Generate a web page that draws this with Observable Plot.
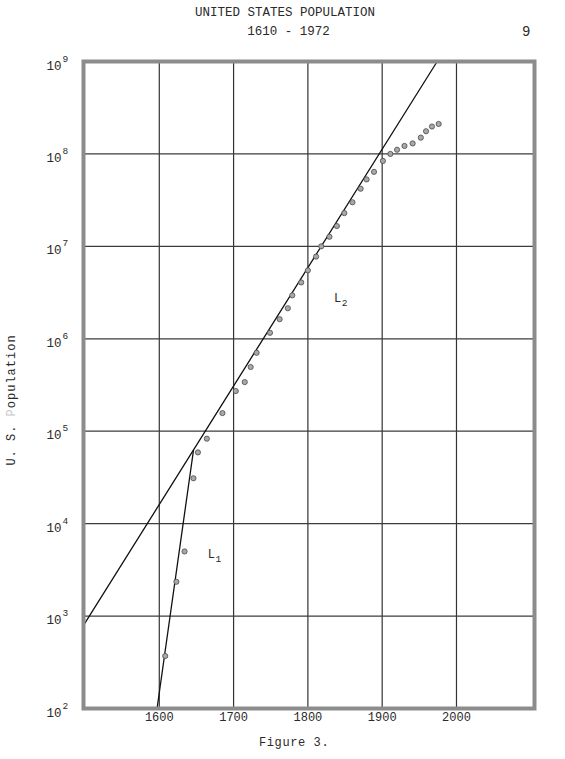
<!DOCTYPE html>
<html>
<head>
<meta charset="utf-8">
<script src="https://cdn.jsdelivr.net/npm/d3@7"></script>
<script src="https://cdn.jsdelivr.net/npm/@observablehq/plot@0.6"></script>
<style>
  html, body { margin: 0; padding: 0; background: #fff; }
  #page { position: relative; width: 565px; height: 759px; overflow: hidden;
          font-family: "Liberation Mono", "DejaVu Sans Mono", monospace; color: #2a2a2a; }
  #page svg { position: absolute; left: 0; top: 0; }
  .txt { position: absolute; white-space: nowrap; line-height: 1; }
</style>
</head>
<body>
<div id="page"></div>
<script>
// ---- data ----
const years = [1608, 1623, 1634, 1646, 1652, 1664, 1685, 1703, 1715, 1723, 1731, 1749, 1762, 1773, 1779, 1791,
               1800, 1811, 1818, 1829, 1839, 1849, 1860, 1871, 1879, 1889, 1901, 1911, 1920, 1930, 1941, 1952,
               1959, 1967, 1976];
const population = [370, 2350, 5000, 31000, 59000, 83000, 157000, 272000, 340000, 495000, 705000,
                    1160000, 1630000, 2140000, 2950000, 4070000, 5500000, 7750000, 10000000, 12700000,
                    16600000, 22900000, 30000000, 42000000, 53000000, 64000000, 84000000, 100000000,
                    111000000, 122000000, 130000000, 150000000, 176000000, 198000000, 211000000];

// fitted lines L1 and L2 (end points as drawn)
const l1Years = [1597, 1646];
const l1Pops  = [100, 62000];
const l2Years = [1498, 1974];
const l2Pops  = [794, 1e9];

// tick values
const xTicks = [1600, 1700, 1800, 1900, 2000];
const yExponents = [2, 3, 4, 5, 6, 7, 8, 9];

// line labels
const lineLabels = ["L", "L"];
const lineSubs = ["1", "2"];
const labelYears = [1670, 1840];
const labelPops = [4700, 2750000];

// ---- build tables ----
const points = years.map((y, i) => ({year: y, pop: population[i]}));
const l1 = l1Years.map((y, i) => ({year: y, pop: l1Pops[i]}));
const l2 = l2Years.map((y, i) => ({year: y, pop: l2Pops[i]}));
const yTicks = yExponents.map(e => ({e, v: Math.pow(10, e)}));
const labels = lineLabels.map((t, i) => ({t, s: lineSubs[i], year: labelYears[i], pop: labelPops[i]}));

const FONT = "Liberation Mono, DejaVu Sans Mono, monospace";
const INK = "#2a2a2a";

const chart = Plot.plot({
  width: 565,
  height: 759,
  marginTop: 61,
  marginBottom: 51,
  marginLeft: 83,
  marginRight: 31,
  x: {domain: [1498, 2105], axis: null},
  y: {type: "log", domain: [100, 1e9], axis: null},
  style: {fontFamily: FONT, background: "transparent", color: INK},
  marks: [
    // grid
    Plot.ruleX(xTicks, {x: d => d, stroke: "#333", strokeWidth: 1.2}),
    Plot.ruleY(yTicks.filter(d => d.e > 2 && d.e < 9), {y: "v", stroke: "#3c3c3c", strokeWidth: 1.2}),
    // fitted lines
    Plot.line(l1, {x: "year", y: "pop", stroke: "#111", strokeWidth: 1.3}),
    Plot.line(l2, {x: "year", y: "pop", stroke: "#111", strokeWidth: 1.3}),
    // data points
    Plot.dot(points, {x: "year", y: "pop", r: 2.6, fill: "#a8a8a8", stroke: "#4a4a4a", strokeWidth: 0.8}),
    // frame
    Plot.frame({stroke: "#8c8c8c", strokeWidth: 4}),
    // x tick labels
    Plot.text(xTicks, {x: d => d, text: d => String(d), frameAnchor: "bottom", dy: 9, lineAnchor: "middle",
                       fontSize: 12, fill: INK}),
    // y tick labels: "10" and exponent
    Plot.text(yTicks, {y: "v", text: () => "10", frameAnchor: "left", dx: -37, dy: 4, textAnchor: "start",
                       lineAnchor: "middle", fontSize: 12.5, fill: INK}),
    Plot.text(yTicks, {y: "v", text: d => String(d.e), frameAnchor: "left", dx: -21, dy: -3, textAnchor: "start",
                       lineAnchor: "middle", fontSize: 9.5, fill: INK}),
    // line labels
    Plot.text(labels, {x: "year", y: "pop", text: "t", fontSize: 12, fill: INK, textAnchor: "middle", lineAnchor: "middle"}),
    Plot.text(labels, {x: "year", y: "pop", text: "s", fontSize: 9.5, dx: 7, dy: 5, fill: INK, textAnchor: "middle", lineAnchor: "middle"})
  ]
});

const page = document.getElementById("page");
page.appendChild(chart);

function addText(html, style) {
  const d = document.createElement("div");
  d.className = "txt";
  d.innerHTML = html;
  Object.assign(d.style, style);
  page.appendChild(d);
}
addText("UNITED STATES POPULATION", {left: "0px", width: "570px", textAlign: "center", top: "7px", fontSize: "12.5px"});
addText("1610 - 1972", {left: "0px", width: "577px", textAlign: "center", top: "26px", fontSize: "12.5px"});
addText("9", {left: "522px", top: "25px", fontSize: "14px"});
addText("Figure 3.", {left: "259px", top: "737px", fontSize: "12px", letterSpacing: "0.6px"});
addText('U. S. <span style="color:#c8c8c8">P</span>opulation',
        {left: "12px", top: "400px", transform: "translate(-50%,-50%) rotate(-90deg)", fontSize: "12px", letterSpacing: "1px"});
</script>
</body>
</html>
